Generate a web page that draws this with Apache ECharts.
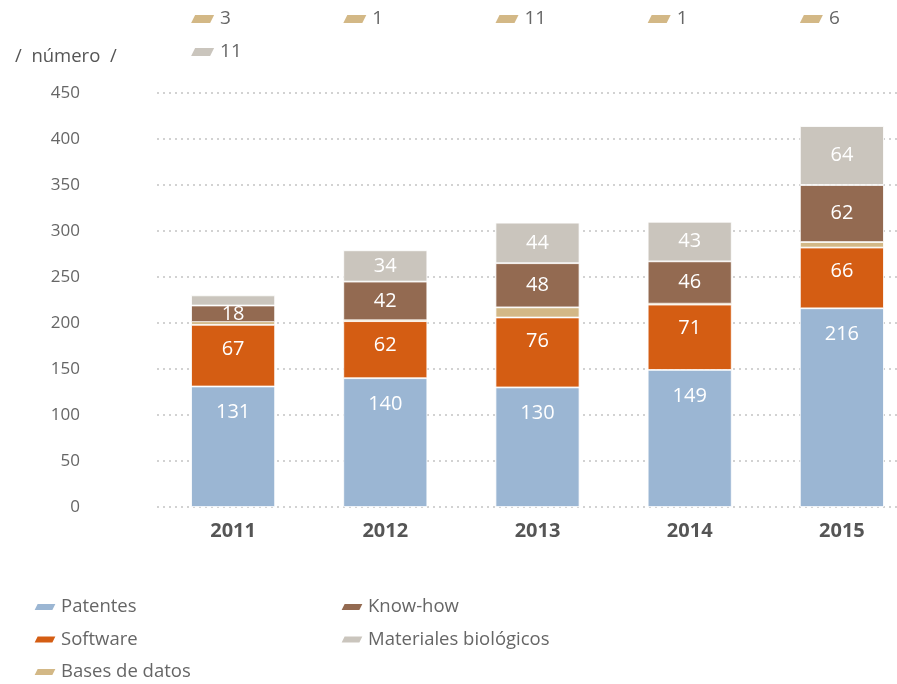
<!DOCTYPE html>
<html>
<head>
<meta charset="utf-8">
<script src="https://cdn.jsdelivr.net/npm/echarts@6/dist/echarts.min.js"></script>
<style>
  html, body { margin: 0; padding: 0; background: #fff; }
  #chart { width: 897px; height: 684px; }
</style>
</head>
<body>
<div id="chart"></div>
<script>
const years = ['2011', '2012', '2013', '2014', '2015']
const patentes = [131, 140, 130, 149, 216]
const software = [67, 62, 76, 71, 66]
const basesDatos = [3, 1, 11, 1, 6]
const knowHow = [18, 42, 48, 46, 62]
const materiales = [11, 34, 44, 43, 64]
const yTicks = [0, 50, 100, 150, 200, 250, 300, 350, 400, 450]

const colors = {
  patentes: '#9bb6d3',
  software: '#d45d13',
  bases: '#d3b886',
  knowhow: '#936a51',
  materiales: '#cac5bd'
}

const FONT = '"Open Sans", "Noto Sans", sans-serif'
const BAR_W = 84
const MIN_LABEL = 15
const icon = 'path://M4,0 L24,0 L20,8 L0,8 Z'

const chart = echarts.init(document.getElementById('chart'))

const barLabel = (pos, dist) => ({
  show: true,
  position: pos,
  distance: dist,
  color: '#fff',
  fontSize: 20,
  fontFamily: FONT,
  formatter: p => (p.value >= MIN_LABEL ? p.value : '')
})

const bar = (name, data, color, label, extra) => Object.assign({
  name,
  type: 'bar',
  stack: 'total',
  barWidth: BAR_W,
  data,
  itemStyle: { color, borderColor: '#fff', borderWidth: 0.8 },
  label,
  emphasis: { disabled: true }
}, extra || {})

// small values shown as annotations above the plot
const noteItem = (row, color) => (params, api) => {
  const x = api.coord([api.value(0), 0])[0] - BAR_W / 2
  const y = 19 + row * 33
  return {
    type: 'group',
    children: [
      {
        type: 'polygon',
        shape: { points: [[x + 4, y - 4], [x + 23, y - 4], [x + 19, y + 4], [x, y + 4]] },
        style: { fill: color }
      },
      {
        type: 'text',
        style: {
          x: x + 29, y,
          text: String(api.value(1)),
          fill: '#666',
          font: '19px ' + FONT,
          verticalAlign: 'middle'
        }
      }
    ]
  }
}

const basesNotes = basesDatos.map((v, i) => [i, v])
const materialesNotes = materiales.map((v, i) => [i, v]).filter(d => d[1] < MIN_LABEL)

const legendBase = {
  orient: 'vertical',
  top: 596,
  padding: 0,
  itemWidth: 24, itemHeight: 8, itemGap: 10.5,
  icon,
  textStyle: { fontFamily: FONT, fontSize: 18.5, color: '#666', lineHeight: 22, padding: [0, 0, 0, -1] }
}

const option = {
  backgroundColor: '#fff',
  animation: false,
  title: {
    text: '/  número  /',
    left: 10,
    top: 42,
    textStyle: { fontFamily: FONT, fontSize: 18.5, fontWeight: 'normal', color: '#555' }
  },
  grid: { left: 157, top: 93, width: 761, bottom: 177, outerBoundsMode: 'none' },
  legend: [
    Object.assign({ left: 32, data: ['Patentes', 'Software', 'Bases de datos'] }, legendBase),
    Object.assign({ left: 339, data: ['Know-how', 'Materiales biológicos'] }, legendBase)
  ],
  xAxis: {
    type: 'category',
    data: years,
    axisLine: { show: false },
    axisTick: { show: false },
    axisLabel: { margin: 14, color: '#555', fontSize: 20, fontWeight: 'bold', fontFamily: FONT }
  },
  yAxis: {
    type: 'value',
    min: yTicks[0],
    max: yTicks[yTicks.length - 1],
    interval: yTicks[1] - yTicks[0],
    axisLine: { show: false },
    axisTick: { show: false },
    axisLabel: { margin: 77, color: '#666', fontSize: 17, fontFamily: FONT },
    splitLine: { lineStyle: { color: '#c4c4c4', type: [2, 4], width: 1.5 } }
  },
  series: [
    bar('Patentes', patentes, colors.patentes, barLabel('insideTop', 16)),
    bar('Software', software, colors.software, barLabel('insideTop', 14)),
    bar('Bases de datos', basesDatos, colors.bases, barLabel('inside'), { barMinHeight: 4 }),
    bar('Know-how', knowHow, colors.knowhow, barLabel('inside')),
    bar('Materiales biológicos', materiales, colors.materiales, barLabel('inside')),
    {
      type: 'custom',
      name: 'notes-bases',
      data: basesNotes,
      renderItem: noteItem(0, colors.bases),
      silent: true,
      z: 5
    },
    {
      type: 'custom',
      name: 'notes-materiales',
      data: materialesNotes,
      renderItem: noteItem(1, colors.materiales),
      silent: true,
      z: 5
    }
  ]
}

chart.setOption(option)
</script>
</body>
</html>
